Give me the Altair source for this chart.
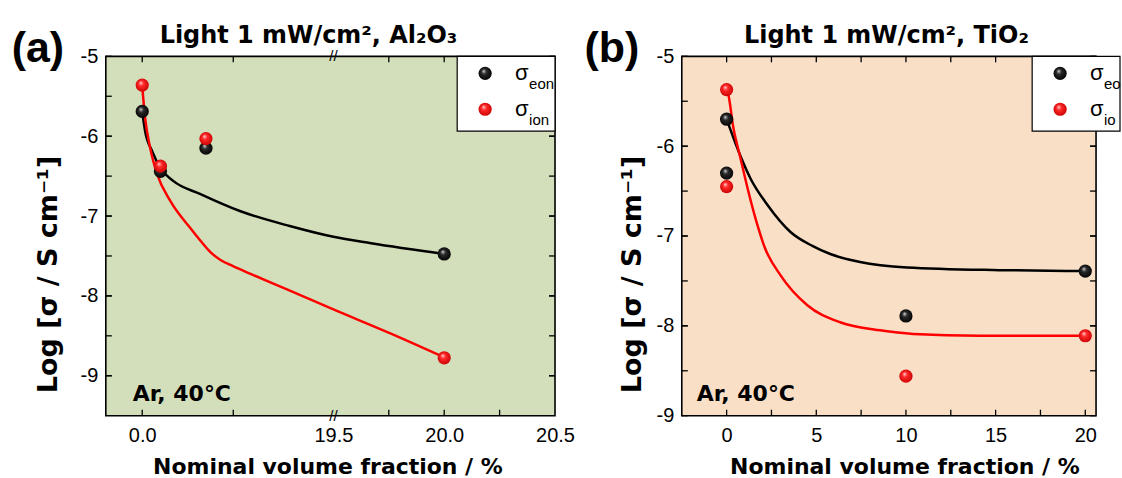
import altair as alt
import pandas as pd

# ---------------- data ----------------
# Panel (a): Al2O3
a_x = [0.0, 0.1, 0.35, 20.0]
a_eon = [-5.69, -6.44, -6.15, -7.475]
a_ion = [-5.36, -6.375, -6.03, -8.775]
a_fit_eon_x = [0.0, 0.016, 0.055, 0.1, 0.17, 0.32, 0.54, 0.81, 19.5, 19.67, 20.0]
a_fit_eon_y = [-5.69, -5.94, -6.19, -6.40, -6.56, -6.725, -6.94, -7.125, -7.26, -7.34, -7.475]
a_fit_ion_x = [0.0, 0.016, 0.044, 0.082, 0.154, 0.264, 0.321, 0.376, 0.43, 0.496, 0.595, 0.814, 19.5, 19.757, 20.0]
a_fit_ion_y = [-5.375, -5.775, -6.15, -6.475, -6.81, -7.15, -7.3125, -7.456, -7.55, -7.625, -7.725, -7.9375, -8.169, -8.469, -8.769]

# Panel (b): TiO2
b_x = [0.0, 0.0, 10.0, 20.0]
b_eon = [-5.70, -6.30, -7.89, -7.39]
b_ion = [-5.37, -6.45, -8.56, -8.11]
b_fit_eon_x = [0.0, 0.11, 0.67, 1.33, 2.28, 3.56, 4.78, 5.78, 7.44, 10.06, 15.2, 20.0]
b_fit_eon_y = [-5.70, -5.76, -6.06, -6.36, -6.655, -6.955, -7.11, -7.20, -7.29, -7.35, -7.38, -7.39]
b_fit_ion_x = [0.0, 0.06, 0.39, 0.78, 1.22, 1.72, 2.11, 3.0, 4.5, 6.33, 8.56, 10.4, 14.1, 20.0]
b_fit_ion_y = [-5.37, -5.395, -5.81, -6.14, -6.51, -6.88, -7.12, -7.435, -7.77, -7.96, -8.05, -8.09, -8.11, -8.11]

# axis ticks / labels
a_x_labels = [0.0, 19.5, 20.0, 20.5]
a_x_ticks = [0.0, 0.5, 19.75, 20.0, 20.25]
b_x_labels = [0, 5, 10, 15, 20]
b_x_ticks = [0, 2.5, 5, 7.5, 10, 12.5, 15, 17.5, 20]
y_labels = [-9, -8, -7, -6, -5]
a_y_ticks = [-9, -8.5, -8, -7.5, -7, -6.5, -6, -5.5]
b_y_ticks = [-8.5, -8, -7.5, -7, -6.5, -6, -5.5]

legend_names = ["eon", "ion"]
titles = ["Light 1 mW/cm², Al₂O₃", "Light 1 mW/cm², TiO₂"]
panel_tags = ["(a)", "(b)"]
condition_text = "Ar, 40°C"
x_title = "Nominal volume fraction / %"
y_title = "Log [σ / S cm⁻¹]"

BOLD = "DejaVu Sans"
REG = "Liberation Sans"


def ball(c_light, c_mid, c_dark):
    return alt.RadialGradient(
        gradient="radial",
        stops=[alt.GradientStop(color=c_light, offset=0),
               alt.GradientStop(color=c_mid, offset=0.35),
               alt.GradientStop(color=c_dark, offset=1)],
        x1=0.38, y1=0.32, r1=0.0, x2=0.5, y2=0.5, r2=0.55)


BLACK_BALL = ball("#d8d8d8", "#2a2a2a", "#000000")
RED_BALL = ball("#ffd8d8", "#ff2a2a", "#c80000")

one = pd.DataFrame({"k": [0]})
TICK = 6


def label_axis_x(values, expr, title_x):
    return alt.Axis(values=values, ticks=False, domain=False, grid=False,
                    labelExpr=expr, labelFont=REG, labelFontSize=20, labelColor="black",
                    labelPadding=10, labelFlush=False, labelOverlap=False, labelBound=False,
                    title=x_title, titleFont=BOLD, titleFontSize=22, titleFontWeight="bold",
                    titleColor="black", titleX=title_x, titleY=58, titleAlign="center",
                    titleBaseline="alphabetic")


def label_axis_y(title_x):
    return alt.Axis(values=y_labels, ticks=False, domain=False, grid=False,
                    labelExpr="'-' + format(abs(datum.value), 'd')", labelFont=REG,
                    labelFontSize=20, labelColor="black", labelPadding=8, labelFlush=False,
                    labelOverlap=False, title=y_title, titleFont=BOLD, titleFontSize=27,
                    titleFontWeight="bold", titleColor="black", titleAngle=-90,
                    titleX=title_x, titleY=218, titleAlign="center", titleBaseline="middle")


def panel(tag, title, px, peon, pion, fex, fey, fix, fiy, xscale, yscale,
          x_labels, x_expr, x_ticks, y_ticks, width, height, bg, xt_x, yt_x, tag_x,
          broken, legend_x, legend_x2, sub_limit, title_x, cond_x, anchor_tl, anchor_br):
    fit_e = pd.DataFrame({"x": fex, "y": fey})
    fit_i = pd.DataFrame({"x": fix, "y": fiy})
    pts_e = pd.DataFrame({"x": px, "y": peon})
    pts_i = pd.DataFrame({"x": px, "y": pion})
    xt = pd.DataFrame({"v": x_ticks})
    yt = pd.DataFrame({"v": y_ticks + y_labels})

    line_e = alt.Chart(fit_e).mark_line(color="black", strokeWidth=2.5, interpolate="monotone").encode(
        x=alt.X("x:Q", scale=xscale, axis=label_axis_x(x_labels, x_expr, xt_x)),
        y=alt.Y("y:Q", scale=yscale, axis=label_axis_y(yt_x)))
    line_i = alt.Chart(fit_i).mark_line(color="#ff0000", strokeWidth=2.5, interpolate="monotone").encode(
        x=alt.X("x:Q", scale=xscale, axis=None),
        y=alt.Y("y:Q", scale=yscale, axis=None))
    dot_e = alt.Chart(pts_e).mark_circle(size=175, opacity=1, fill=BLACK_BALL).encode(
        x=alt.X("x:Q", scale=xscale, axis=None),
        y=alt.Y("y:Q", scale=yscale, axis=None))
    dot_i = alt.Chart(pts_i).mark_circle(size=175, opacity=1, fill=RED_BALL).encode(
        x=alt.X("x:Q", scale=xscale, axis=None),
        y=alt.Y("y:Q", scale=yscale, axis=None))

    # inward ticks on all four sides, positioned through the scales
    tick_layers = []
    for y0, y1 in ((height - TICK, height), (0, TICK)):
        tick_layers.append(alt.Chart(xt).mark_rule(color="black", strokeWidth=1.3).encode(
            x=alt.X("v:Q", scale=xscale, axis=None), y=alt.value(y0), y2=alt.value(y1)))
    for x0, x1 in ((0, TICK), (width - TICK, width)):
        tick_layers.append(alt.Chart(yt).mark_rule(color="black", strokeWidth=1.3).encode(
            y=alt.Y("v:Q", scale=yscale, axis=None), x=alt.value(x0), x2=alt.value(x1)))

    layers = [
        alt.Chart(one).mark_rect(opacity=0).encode(
            x=alt.value(anchor_tl[0]), x2=alt.value(anchor_tl[0] + 1),
            y=alt.value(anchor_tl[1]), y2=alt.value(anchor_tl[1] + 1)),
        alt.Chart(one).mark_rect(opacity=0).encode(
            x=alt.value(anchor_br[0] - 1), x2=alt.value(anchor_br[0]),
            y=alt.value(anchor_br[1] - 1), y2=alt.value(anchor_br[1])),
        *tick_layers,
        line_e, line_i, dot_e, dot_i,
    ]
    if broken:
        for yy in (0, height):
            layers.append(alt.Chart(one).mark_text(text="//", font=REG, fontSize=15,
                                                  baseline="middle", align="center", color="black").encode(
                x=alt.XDatum(19.5, type="quantitative", scale=xscale, axis=None),
                y=alt.value(yy)))
    # legend box
    lx = legend_x
    layers.append(alt.Chart(one).mark_rect(fill="white", stroke="black", strokeWidth=1.2).encode(
        x=alt.value(lx), x2=alt.value(legend_x2), y=alt.value(0), y2=alt.value(75)))
    for i, (name, fill) in enumerate(zip(legend_names, [BLACK_BALL, RED_BALL])):
        yb = 17 + 36 * i
        layers.append(alt.Chart(one).mark_circle(size=175, opacity=1, fill=fill).encode(
            x=alt.value(lx + 28), y=alt.value(yb)))
        layers.append(alt.Chart(one).mark_text(font=REG, fontSize=22, align="left",
                                              baseline="alphabetic", color="black").encode(
            x=alt.value(lx + 58), y=alt.value(yb + 7), text=alt.value("σ")))
        layers.append(alt.Chart(one).mark_text(font=REG, fontSize=15, align="left",
                                              baseline="alphabetic", color="black",
                                              limit=sub_limit, ellipsis="\u200b").encode(
            x=alt.value(lx + 72), y=alt.value(yb + 16), text=alt.value(name)))
    # texts
    layers.append(alt.Chart(one).mark_text(font=BOLD, fontSize=24, fontWeight="bold", align="center",
                                          baseline="alphabetic", color="black").encode(
        x=alt.value(title_x), y=alt.value(-13), text=alt.value(title)))
    layers.append(alt.Chart(one).mark_text(font=REG, fontSize=43, fontWeight="bold", align="center",
                                          baseline="middle", color="black").encode(
        x=alt.value(tag_x), y=alt.value(-7), text=alt.value(tag)))
    layers.append(alt.Chart(one).mark_text(font=BOLD, fontSize=22, fontWeight="bold", align="left",
                                          baseline="alphabetic", color="black").encode(
        x=alt.value(cond_x), y=alt.value(345), text=alt.value(condition_text)))

    return alt.layer(*layers).properties(
        width=width, height=height,
        view=alt.ViewBackground(fill=bg, stroke="black", strokeWidth=1.6),
    ).resolve_axis(x="independent", y="independent")


a_xscale = alt.Scale(domain=[-0.2, 1.05, 19.5, 20.5], range=[0, 228, 228, 450], nice=False, zero=False)
a_yscale = alt.Scale(domain=[-9.5, -5], nice=False, zero=False)
b_xscale = alt.Scale(domain=[-2.5, 20.6], nice=False, zero=False)
b_yscale = alt.Scale(domain=[-9, -5], nice=False, zero=False)

left = panel(panel_tags[0], titles[0], a_x, a_eon, a_ion, a_fit_eon_x, a_fit_eon_y,
             a_fit_ion_x, a_fit_ion_y, a_xscale, a_yscale, a_x_labels,
             "format(datum.value, '.1f')", a_x_ticks, a_y_ticks, 450, 360, "#D3DFBA",
             222, -57, -68, True, 352, 450, 200, 203, 27, (-105, -55), (450, 423))
right = panel(panel_tags[1], titles[1], b_x, b_eon, b_ion, b_fit_eon_x, b_fit_eon_y,
              b_fit_ion_x, b_fit_ion_y, b_xscale, b_yscale, b_x_labels,
              "format(datum.value, 'd')", b_x_ticks, b_y_ticks, 415, 360, "#F9DFC6",
              223, -49, -70, False, 351, 439, 17, 205, 15, (-120, -55), (440, 423))

chart = alt.hconcat(left, right, spacing=127, bounds="flush").properties(
    padding=0, background="white"
).configure_view(stroke=None)

chart.save("out.html", embed_options={"renderer": "svg", "actions": False})
